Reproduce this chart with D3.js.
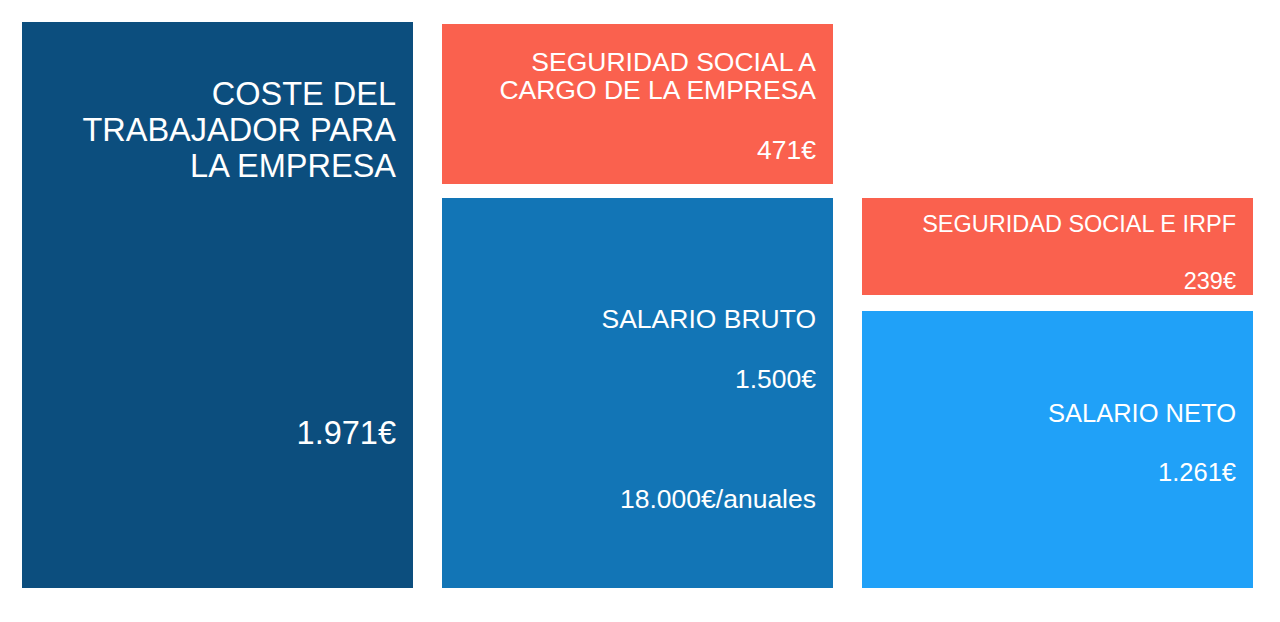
<!DOCTYPE html>
<html>
<head>
<meta charset="utf-8">
<script src="https://cdn.jsdelivr.net/npm/d3@7"></script>
<style>
  html, body { margin: 0; padding: 0; background: #fff; }
  text { font-family: "Liberation Sans", Arial, Helvetica, sans-serif; fill: #fff; }
</style>
</head>
<body>
<div id="chart"></div>
<script>
// Data
const titles = [
    ["COSTE DEL", "TRABAJADOR PARA", "LA EMPRESA"],
    ["SEGURIDAD SOCIAL A", "CARGO DE LA EMPRESA"],
    ["SALARIO BRUTO"],
    ["SEGURIDAD SOCIAL E IRPF"],
    ["SALARIO NETO"]
];
const values = [1971, 471, 1500, 239, 1261];
const valueLabels = ["1.971€", "471€", "1.500€", "239€", "1.261€"];
const extraLabels = ["", "", "18.000€/anuales", "", ""];
const columnOf = [0, 1, 1, 2, 2];

// Style / layout (kept apart from the data)
const colors = ["#0c4e7e", "#fa614e", "#1275b6", "#fa614e", "#20a1f8"];
const fontSizes = [32.5, 26.5, 26.5, 23.5, 25.5];
const lineHeights = [36, 28, 28, 28, 28];
// label baselines as a fraction of each box height
const titlePos = [0.147, 0.296, 0.334, 0.347, 0.40];
const valuePos = [0.746, 0.84, 0.486, 0.937, 0.615];
const extraPos = [0, 0, 0.794, 0, 0];

const width = 1280, height = 622;
const yTop = 22, yBottom = 588;
const minBox = 55; // fixed room each box gets for its labels

const svg = d3.select("#chart")
    .append("svg")
    .attr("width", width)
    .attr("height", height);

// Column positions
const x = d3.scaleBand()
    .domain([0, 1, 2])
    .range([22, 1253])
    .paddingInner(0.069)
    .paddingOuter(0);

// Stack a column: every box gets minBox plus a share proportional to its value
const boxes = [];
function stack(indices, y0, y1, gap) {
    const n = indices.length;
    const h = d3.scaleLinear()
        .domain([0, d3.sum(indices, i => values[i])])
        .range([0, (y1 - y0) - gap * (n - 1) - minBox * n]);
    let y = y0;
    indices.forEach(i => {
        const bh = minBox + h(values[i]);
        boxes[i] = { y: y, h: bh };
        y += bh + gap;
    });
}

stack([0], yTop, yBottom, 0);
stack([1, 2], yTop + 2, yBottom, 14);
// net salary column splits the gross salary
stack([3, 4], boxes[2].y, boxes[2].y + boxes[2].h, 16);

const g = svg.selectAll(".seg")
    .data(values.map((v, i) => i))
    .enter().append("g")
    .attr("class", "seg");

g.append("rect")
    .attr("x", i => x(columnOf[i]))
    .attr("y", i => boxes[i].y)
    .attr("width", x.bandwidth())
    .attr("height", i => boxes[i].h)
    .attr("fill", i => colors[i])
    .attr("shape-rendering", "crispEdges");

const pad = 17;

// Labels, right aligned inside each box
g.each(function(i) {
    const sel = d3.select(this);
    const tx = x(columnOf[i]) + x.bandwidth() - pad;
    const t0 = boxes[i].y + boxes[i].h * titlePos[i];
    titles[i].forEach((line, k) => {
        sel.append("text")
            .attr("x", tx)
            .attr("y", t0 + k * lineHeights[i])
            .attr("text-anchor", "end")
            .style("font-size", fontSizes[i] + "px")
            .text(line);
    });
    sel.append("text")
        .attr("x", tx)
        .attr("y", boxes[i].y + boxes[i].h * valuePos[i])
        .attr("text-anchor", "end")
        .style("font-size", fontSizes[i] + "px")
        .text(valueLabels[i]);
    if (extraLabels[i]) {
        sel.append("text")
            .attr("x", tx)
            .attr("y", boxes[i].y + boxes[i].h * extraPos[i])
            .attr("text-anchor", "end")
            .style("font-size", fontSizes[i] + "px")
            .text(extraLabels[i]);
    }
});
</script>
</body>
</html>
